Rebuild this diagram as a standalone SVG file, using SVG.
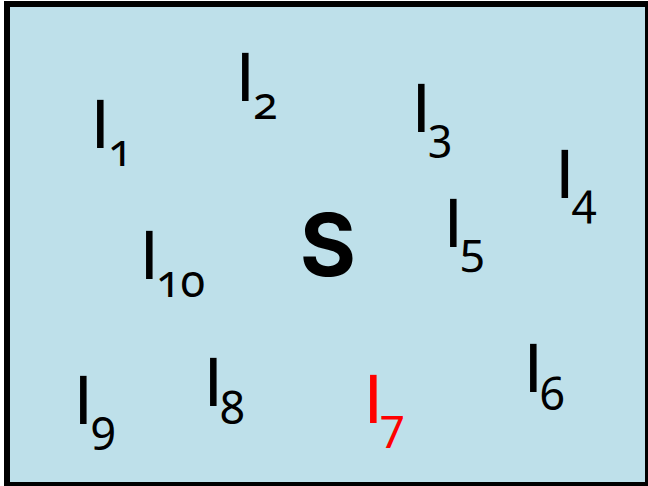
<svg xmlns="http://www.w3.org/2000/svg" width="648" height="486" viewBox="0 0 648 486">
<style>
.lbl{fill:#000}
.bar{font-family:"DejaVu Sans",sans-serif;font-size:66.5px}
.sub{font-family:"Noto Sans","DejaVu Sans",sans-serif;font-size:45px;font-variant-numeric:oldstyle-nums;font-feature-settings:"onum" 1}
.red{fill:#FF0000}
.big{font-family:Inter,"DejaVu Sans",sans-serif;font-size:86px;font-weight:bold;fill:#000}
</style>
<rect id="frame" x="7" y="4" width="641" height="481" fill="#BEE0EA" stroke="#000" stroke-width="6"/>
<g id="S"><text class="big" x="328" y="276" text-anchor="middle">S</text></g>
<g id="I1"><text class="lbl"><tspan class="bar" x="90.5" y="148">I</tspan><tspan class="sub" x="108" y="166">1</tspan></text></g>
<g id="I2"><text class="lbl"><tspan class="bar" x="235.5" y="101">I</tspan><tspan class="sub" x="253" y="119">2</tspan></text></g>
<g id="I3"><text class="lbl"><tspan class="bar" x="411.5" y="132">I</tspan><tspan class="sub" x="428" y="150">3</tspan></text></g>
<g id="I4"><text class="lbl"><tspan class="bar" x="555" y="198">I</tspan><tspan class="sub" x="572" y="216">4</tspan></text></g>
<g id="I5"><text class="lbl"><tspan class="bar" x="443.5" y="246.5">I</tspan><tspan class="sub" x="460" y="265">5</tspan></text></g>
<g id="I6"><text class="lbl"><tspan class="bar" x="523.5" y="392">I</tspan><tspan class="sub" x="540" y="410">6</tspan></text></g>
<g id="I7"><text class="lbl red"><tspan class="bar" x="363.5" y="422.5">I</tspan><tspan class="sub" x="380" y="441">7</tspan></text></g>
<g id="I8"><text class="lbl"><tspan class="bar" x="203.5" y="406">I</tspan><tspan class="sub" x="220" y="424">8</tspan></text></g>
<g id="I9"><text class="lbl"><tspan class="bar" x="73.5" y="424">I</tspan><tspan class="sub" x="91" y="442">9</tspan></text></g>
<g id="I10"><text class="lbl"><tspan class="bar" x="139.5" y="279">I</tspan><tspan class="sub" x="156" y="297">10</tspan></text></g>
</svg>
